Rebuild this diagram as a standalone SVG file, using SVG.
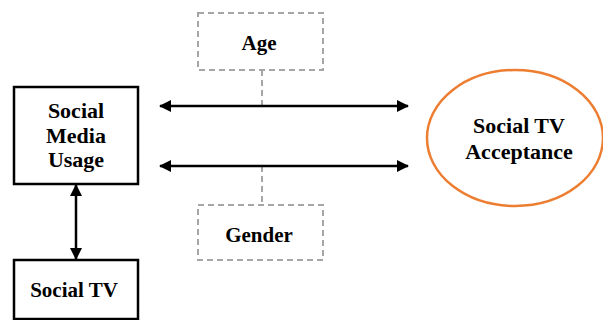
<svg xmlns="http://www.w3.org/2000/svg" width="603" height="320" viewBox="0 0 603 320">
<defs>
<style>
.box{fill:#fff;stroke:#000;stroke-width:2.5}
.dbox{fill:#fff;stroke:#a6a6a6;stroke-width:2;stroke-dasharray:6,4}
.dline{stroke:#a6a6a6;stroke-width:2;stroke-dasharray:6,4;fill:none}
.arr{stroke:#000;stroke-width:2.5;fill:none;marker-start:url(#ah);marker-end:url(#ah)}
text{font-family:"Liberation Serif","Times New Roman",serif;font-weight:bold;font-size:22px;text-anchor:middle;fill:#000}
</style>
<marker id="ah" viewBox="0 0 12 12" refX="11" refY="6" markerWidth="12" markerHeight="12" markerUnits="userSpaceOnUse" orient="auto-start-reverse">
<path d="M0,0 L12,6 L0,12 z" fill="#000"/>
</marker>
</defs>
<rect width="603" height="320" fill="#fff"/>
<g id="connectors">
<line class="dline" x1="262" y1="70" x2="262" y2="106"/>
<line class="dline" x1="262" y1="166" x2="262" y2="205"/>
<line class="arr" x1="160" y1="106" x2="408" y2="106"/>
<line class="arr" x1="160" y1="166" x2="408" y2="166"/>
<line class="arr" x1="76" y1="185" x2="76" y2="259"/>
</g>
<g id="social-media-usage">
<rect class="box" x="14" y="87" width="124" height="97"/>
<text x="76" y="118">Social</text>
<text x="76" y="143">Media</text>
<text x="76" y="167">Usage</text>
</g>
<g id="social-tv">
<rect class="box" x="14" y="260" width="124" height="59"/>
<text x="74" y="297" style="font-size:21px">Social TV</text>
</g>
<g id="age">
<rect class="dbox" x="198" y="13" width="125" height="57"/>
<text x="259" y="50" style="font-size:21px">Age</text>
</g>
<g id="gender">
<rect class="dbox" x="198" y="205" width="125" height="55"/>
<text x="259" y="242" style="font-size:21px">Gender</text>
</g>
<g id="social-tv-acceptance">
<ellipse cx="515" cy="138" rx="88" ry="68" fill="#fff" stroke="#ed7d31" stroke-width="2.5"/>
<text x="519" y="133">Social TV</text>
<text x="519" y="159">Acceptance</text>
</g>
</svg>
